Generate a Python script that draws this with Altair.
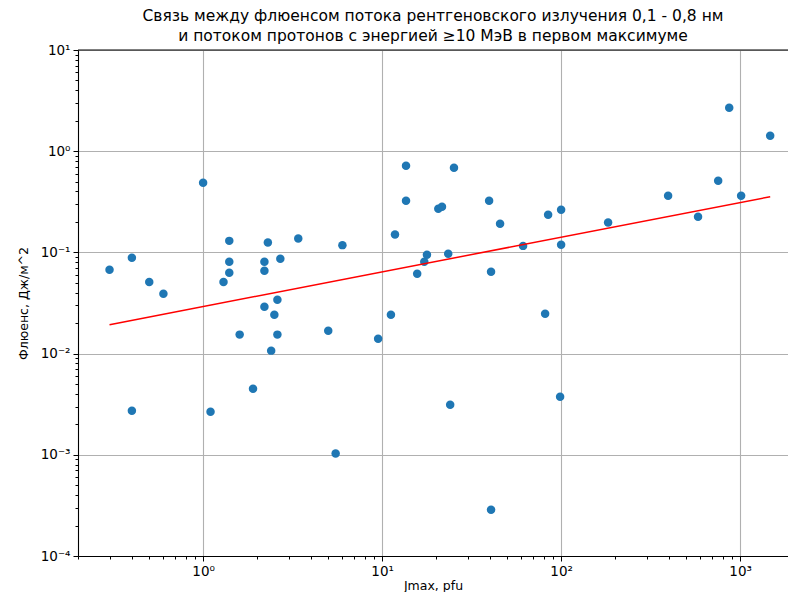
import altair as alt
import pandas as pd

# Data
jmax = [0.3, 0.4, 0.5, 0.6, 0.4, 1.0, 1.1, 1.3, 1.4, 1.4,
        1.4, 1.6, 1.9, 2.2, 2.2, 2.2, 2.3, 2.5, 2.4, 2.6,
        2.6, 2.7, 3.4, 5.0, 5.5, 6.0, 9.5, 11.2, 11.8, 13.6,
        13.6, 15.7, 17.2, 17.8, 20.6, 21.6, 23.4, 24.0, 25.2, 39.6,
        40.6, 40.6, 45.6, 61.3, 81.4, 84.6, 100, 100, 98.7, 183,
        396, 582, 754, 869, 1013, 1472]
fluence = [0.0675, 0.0887, 0.051, 0.039, 0.00273, 0.489, 0.00267, 0.051, 0.13, 0.081,
           0.063, 0.0154, 0.0045, 0.081, 0.066, 0.029, 0.125, 0.0242, 0.0107, 0.034,
           0.0154, 0.0867, 0.137, 0.0168, 0.00103, 0.118, 0.014, 0.0242, 0.15, 0.72,
           0.324, 0.0616, 0.081, 0.095, 0.27, 0.283, 0.097, 0.00313, 0.687, 0.324,
           0.0645, 0.000287, 0.192, 0.116, 0.0248, 0.236, 0.264, 0.119, 0.00375, 0.197,
           0.363, 0.225, 0.511, 2.69, 0.363, 1.42]
fit_x = [0.3, 1472]
fit_y = [0.0193, 0.355]

x_ticks = [0.2, 0.3, 0.4, 0.5, 0.6, 0.7, 0.8, 0.9, 1,
           2, 3, 4, 5, 6, 7, 8, 9, 10,
           20, 30, 40, 50, 60, 70, 80, 90, 100,
           200, 300, 400, 500, 600, 700, 800, 900, 1000]
y_ticks = []
for e in range(-4, 1):
    for m in range(1, 10):
        y_ticks.append(round(m * 10 ** e, 6))
y_ticks.append(10)

pts = pd.DataFrame({"jmax": jmax, "fluence": fluence})
fit = pd.DataFrame({"jmax": fit_x, "fluence": fit_y})
frame = pd.DataFrame({"k": [0]})

FONT = "DejaVu Sans"
major_test = "abs(log(datum.value)/LN10 - round(log(datum.value)/LN10)) < 0.000001"
sup_expr = ("(" + major_test + ") ? ('10' + replace(replace(replace(replace(replace(replace("
            "'' + round(log(datum.value)/LN10), '-', '⁻'), '0', '⁰'), '1', '¹'), '2', '²'), '3', '³'), '4', '⁴')) : ''")

def axis(title, values, orient):
    return alt.Axis(
        title=title, values=values, orient=orient,
        labelExpr=sup_expr, labelOverlap=False, labelFlush=False,
        labelFont=FONT, labelFontSize=13.5, labelColor="black", labelPadding=3,
        titleFont=FONT, titleFontSize=12.5, titleFontWeight="normal", titleColor="black",
        titlePadding=2 if orient == "bottom" else 10,
        domainColor="black", domainWidth=1.1,
        tickColor="black", tickWidth=1,
        tickSize={"condition": {"test": major_test, "value": 5}, "value": 3},
        grid=True, gridColor="#b0b0b0", gridWidth=1.1,
        gridOpacity={"condition": {"test": major_test, "value": 1}, "value": 0},
    )

xscale = alt.Scale(type="log", domain=[0.2, 1851], nice=False)
yscale = alt.Scale(type="log", domain=[0.0001, 10], nice=False)

points = alt.Chart(pts).mark_circle(size=72, color="#1f77b4", opacity=1).encode(
    x=alt.X("jmax:Q", scale=xscale, axis=axis("Jmax, pfu", x_ticks, "bottom")),
    y=alt.Y("fluence:Q", scale=yscale, axis=axis("Флюенс, Дж/м^2", y_ticks, "left")),
)

line = alt.Chart(fit).mark_line(color="red", strokeWidth=1.5).encode(
    x="jmax:Q", y="fluence:Q"
)

top_spine = alt.Chart(frame).mark_rule(color="black", strokeWidth=1.1).encode(
    x=alt.value(0), x2=alt.value(710), y=alt.value(0)
)

chart = alt.layer(points, line, top_spine).properties(
    width=710, height=506,
    title=alt.TitleParams(
        ["Связь между флюенсом потока рентгеновского излучения 0,1 - 0,8 нм",
         "и потоком протонов с энергией ≥10 МэВ в первом максимуме"],
        font=FONT, fontSize=15.5, fontWeight="normal", color="black",
        anchor="middle", lineHeight=20, offset=-1,
    ),
    autosize=alt.AutoSizeParams(type="none"),
    padding={"left": 70, "top": 42, "right": 0, "bottom": 36},
).configure_view(stroke=None)

chart.save("out.html", embed_options={"renderer": "svg", "actions": False})
